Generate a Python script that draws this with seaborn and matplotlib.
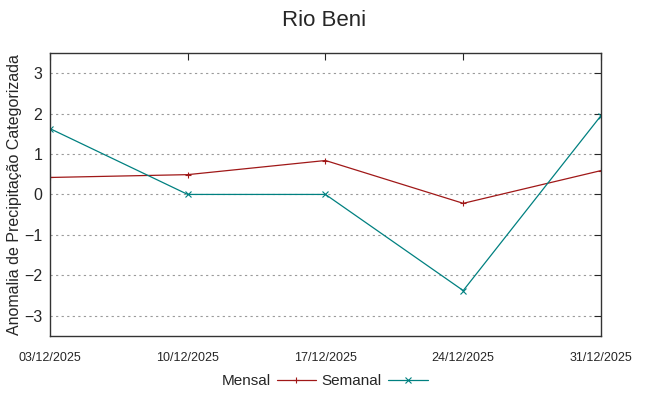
import pandas as pd
import matplotlib
matplotlib.use("Agg")
import matplotlib.pyplot as plt
import seaborn as sns

# Data
datas = ["03/12/2025", "10/12/2025", "17/12/2025", "24/12/2025", "31/12/2025"]
mensal = [0.42, 0.49, 0.84, -0.22, 0.59]
semanal = [1.63, 0.0, 0.0, -2.38, 1.95]
cores = {"Mensal": "#a01818", "Semanal": "#008080"}
marcadores = {"Mensal": "+", "Semanal": "x"}

df = pd.DataFrame({
    "pos": list(range(len(datas))) * 2,
    "valor": mensal + semanal,
    "serie": ["Mensal"] * len(datas) + ["Semanal"] * len(datas),
})

sns.set_style("white")
plt.rcParams["font.family"] = ["Liberation Sans", "DejaVu Sans"]

fig = plt.figure(figsize=(6.49, 3.96), dpi=100)
ax = fig.add_axes([0.077, 0.152, 0.849, 0.714])

sns.lineplot(data=df, x="pos", y="valor", hue="serie", style="serie",
             palette=cores, markers=marcadores, dashes=False,
             linewidth=0.9, markersize=5, ax=ax, legend=False)

# markers '+' / 'x' need edge colour equal to the line colour
for ln in ax.lines:
    ln.set_markeredgecolor(ln.get_color())
    ln.set_markeredgewidth(0.8)

ax.set_xlim(0, len(datas) - 1)
ax.set_ylim(-3.5, 3.5)
ax.set_xticks(range(len(datas)))
ax.set_xticklabels(datas, family=["Liberation Sans Narrow", "Liberation Sans"], fontsize=9)
ax.set_yticks([-3, -2, -1, 0, 1, 2, 3])
ax.tick_params(axis="y", labelsize=11.5, direction="in", right=True, length=5, width=0.8, pad=5.5)
ax.tick_params(axis="x", direction="in", top=True, length=5, width=0.8, pad=12)
ax.yaxis.grid(True, linestyle=(0, (2, 3)), color="#9a9a9a", linewidth=0.8)
for s in ax.spines.values():
    s.set_color("#333333")
    s.set_linewidth(1.0)

ax.set_xlabel("")
ax.set_ylabel("Anomalia de Precipitação Categorizada", fontsize=11.5)
ax.yaxis.set_label_coords(-0.05, 0.5)
fig.suptitle("Rio Beni", fontsize=16, y=0.975)

handles = []
for ln, nome in zip(ax.lines[:2], ["Mensal", "Semanal"]):
    h = plt.Line2D([], [], color=ln.get_color(), marker=ln.get_marker(),
                   markersize=5, markeredgewidth=0.8, linewidth=0.9, label=nome)
    handles.append(h)
fig.legend(handles=handles, loc="center", bbox_to_anchor=(0.5, 1 - 381 / 396),
           ncol=2, frameon=False, markerfirst=False, fontsize=11,
           handlelength=2.6, columnspacing=0.35, handletextpad=0.4, borderpad=0)

fig.savefig("out.png", dpi=100)
